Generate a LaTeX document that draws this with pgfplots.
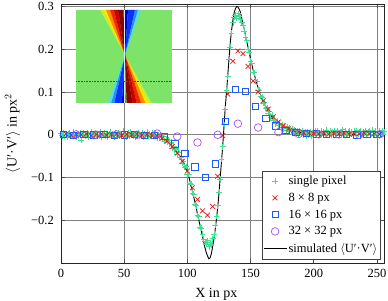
\documentclass[border=0pt]{standalone}
\usepackage{fontspec}
\setmainfont{Liberation Serif}
\usepackage{pgfplots}
\pgfplotsset{compat=1.18}
\definecolor{cgreen}{RGB}{60,225,150}
\definecolor{cred}{RGB}{240,20,20}
\definecolor{cblue}{RGB}{30,90,250}
\definecolor{cpurple}{RGB}{170,80,240}
\definecolor{jgreen}{RGB}{125,228,105}
\newcommand{\uv}{$\langle$U′·V′$\rangle$}
\begin{document}
\begin{tikzpicture}
\begin{axis}[at={(0pt,0pt)}, anchor=south west, scale only axis,
  width=323.5pt, height=259pt,
  xmin=0, xmax=256, ymin=-0.3, ymax=0.306,
  xtick={0,50,100,150,200,250}, xticklabels={0,50,100,150,200,250},
  ytick={-0.2,-0.1,0,0.1,0.2,0.3}, yticklabels={−0.2,−0.1,0,0.1,0.2,0.3},
  grid=major, grid style={black!50, line width=0.7pt},
  axis line style={black!85, line width=0.8pt},
  tick style={black!70, line width=0.8pt}, major tick length=4pt,
  ticklabel style={font=\fontsize{12.5}{14}\selectfont, inner sep=0pt},
  xticklabel style={anchor=base, yshift=-14pt},
  yticklabel style={anchor=east, xshift=-7pt},
  label style={font=\fontsize{14}{16}\selectfont},
  xlabel={X in px}, ylabel={\uv\ in px$^2$},
  xlabel style={at={(axis description cs:0.48,-0.1313)}, anchor=base},
  ylabel style={at={(axis description cs:-0.15,0.5)}, anchor=center},
  legend style={at={(0.986,0.0154)}, anchor=south east, draw=black!75, fill=white,
    font=\fontsize{12.5}{14}\selectfont, row sep=3pt, inner xsep=1pt, inner ysep=3pt,
    nodes={inner xsep=1.5pt}},
  legend cell align=left,
  legend image code/.code={\draw[mark repeat=2,mark phase=2,#1] plot coordinates {(0pt,0pt)(11.5pt,0pt)(23pt,0pt)};},
]
\addplot[only marks, mark=+, mark size=2.9pt, cgreen, line width=0.7pt] coordinates {
(0,0.003)(1,-0.002)(2,0.005)(3,-0.004)(4,0.001)(5,-0.006)(6,0.002)(7,0.004)(8,-0.003)(9,0.000)
(10,0.006)(11,-0.001)(12,-0.005)(13,0.002)(14,-0.002)(15,0.004)(16,-0.013)(17,0.001)(18,0.005)(19,-0.003)
(20,-0.001)(21,0.004)(22,-0.005)(23,0.002)(24,0.006)(25,-0.003)(26,0.000)(27,0.005)(28,-0.004)(29,0.002)
(30,-0.002)(31,0.007)(32,-0.006)(33,0.001)(34,0.004)(35,-0.003)(36,0.003)(37,-0.005)(38,0.002)(39,0.006)
(40,-0.002)(41,0.001)(42,-0.006)(43,0.004)(44,0.000)(45,0.005)(46,-0.003)(47,0.003)(48,-0.004)(49,0.008)
(50,-0.001)(51,0.002)(52,-0.005)(53,0.004)(54,-0.002)(55,0.006)(56,0.001)(57,-0.004)(58,0.003)(59,-0.006)
(60,0.002)(61,0.005)(62,-0.003)(63,0.000)(64,0.004)(65,-0.005)(66,0.003)(67,-0.001)(68,0.006)(69,-0.003)
(70,0.002)(71,-0.004)(72,0.004)(73,-0.002)(74,0.001)
(75,0.002)(76,-0.007)(77,-0.001)(78,-0.007)(79,-0.001)(80,-0.010)(81,-0.004)(82,-0.015)(83,-0.010)(84,-0.018)
(85,-0.013)(86,-0.021)(87,-0.017)(88,-0.031)(89,-0.026)(90,-0.035)(91,-0.032)(92,-0.045)(93,-0.041)(94,-0.053)
(95,-0.052)(96,-0.066)(97,-0.063)(98,-0.076)(99,-0.074)(100,-0.092)(101,-0.093)(102,-0.114)(103,-0.115)(104,-0.136)
(105,-0.139)(106,-0.163)(107,-0.166)(108,-0.189)(109,-0.192)(110,-0.216)(111,-0.219)(112,-0.232)(113,-0.244)(114,-0.250)
(115,-0.256)(116,-0.248)(117,-0.262)(118,-0.252)(119,-0.258)(120,-0.243)(121,-0.232)(122,-0.212)(123,-0.190)(124,-0.166)
(125,-0.134)(126,-0.104)(127,-0.058)(128,-0.028)(129,0.024)(130,0.060)(131,0.104)(132,0.136)(133,0.176)(134,0.205)
(135,0.238)(136,0.262)(137,0.275)(138,0.280)(139,0.272)(140,0.283)(141,0.276)(142,0.270)(143,0.262)(144,0.255)
(145,0.243)(146,0.229)(147,0.221)(148,0.200)(149,0.194)(150,0.172)(151,0.168)(152,0.147)(153,0.145)(154,0.126)
(155,0.124)(156,0.105)(157,0.104)(158,0.090)(159,0.088)(160,0.074)(161,0.075)(162,0.062)(163,0.064)(164,0.051)
(165,0.054)(166,0.041)(167,0.046)(168,0.033)(169,0.037)(170,0.026)(171,0.032)(172,0.021)(173,0.027)(174,0.017)
(175,0.024)(176,0.014)(177,0.020)(178,0.011)(179,0.019)(180,0.009)(181,0.016)(182,0.007)(183,0.014)(184,0.005)
(185,0.012)(186,0.003)(187,0.010)(188,0.002)(189,0.009)(190,0.001)(191,0.008)(192,-0.001)(193,0.007)(194,-0.002)
(195,0.006)(196,0.000)(197,0.007)(198,-0.003)(199,0.005)(200,-0.002)
(201,0.008)(202,0.000)(203,0.010)(204,0.004)(205,0.001)(206,0.009)(207,0.003)(208,0.007)(209,-0.001)
(210,0.011)(211,0.005)(212,0.002)(213,0.008)(214,0.000)(215,0.006)(216,0.010)(217,0.001)(218,0.005)(219,0.009)
(220,-0.001)(221,0.007)(222,0.004)(223,0.012)(224,0.002)(225,0.008)(226,0.000)(227,0.006)(228,0.009)(229,0.003)
(230,0.007)(231,-0.002)(232,0.008)(233,0.005)(234,0.010)(235,0.001)(236,0.006)(237,0.009)(238,0.002)(239,0.007)
(240,0.004)(241,0.010)(242,0.000)(243,0.006)(244,0.008)(245,0.002)(246,0.011)(247,0.005)(248,0.001)(249,0.009)
(250,0.006)(251,0.000)(252,0.008)(253,0.004)(254,0.010)(255,0.002)(256,0.007)
};
\addlegendentry{single pixel}
\addplot[only marks, mark=x, mark size=3.4pt, cred, line width=0.7pt] coordinates {
(4,0.002)(8,-0.001)(12,0.001)(16,0.000)(20,0.002)(24,-0.002)(28,0.001)(32,0.002)(36,-0.001)(40,0.000)
(44,0.002)(48,-0.002)(52,0.001)(56,0.000)(60,0.002)(64,-0.001)(68,0.001)(72,-0.002)(76,-0.003)(80,-0.008)
(84,-0.015)(88,-0.028)(92,-0.043)(96,-0.062)(100,-0.085)(104,-0.124)(108,-0.151)(112,-0.178)(116,-0.188)(120,-0.168)
(124,-0.097)(128,-0.002)(132,0.095)(136,0.172)(140,0.196)(144,0.190)(148,0.160)(152,0.126)(156,0.100)(160,0.080)
(164,0.060)(168,0.042)(172,0.030)(176,0.021)(180,0.014)(184,0.010)(188,0.007)(192,0.005)(196,0.004)(200,0.003)
(204,0.002)(208,0.004)(212,0.001)(216,0.003)(220,0.002)(224,0.004)(228,0.001)(232,0.003)(236,0.002)(240,0.004)
(244,0.002)(248,0.003)(252,0.001)
};
\addlegendentry{8 × 8 px}
\addplot[only marks, mark=square, mark size=3.2pt, cblue, line width=0.7pt] coordinates {
(2,0.001)(10,-0.001)(18,0.001)(26,0.000)(34,0.001)(42,-0.001)(50,0.000)(58,0.001)(66,-0.001)(74,-0.001)
(82,-0.004)(90,-0.021)(98,-0.044)(106,-0.075)(114,-0.100)(122,-0.068)(130,0.032)(138,0.106)(146,0.102)(154,0.067)
(162,0.039)(170,0.021)(178,0.011)(186,0.006)(194,0.003)(202,0.002)(210,0.001)(218,0.001)(226,0.001)(234,0.000)
(242,0.001)(250,0.001)
};
\addlegendentry{16 × 16 px}
\addplot[only marks, mark=o, mark size=3.8pt, cpurple, line width=0.7pt] coordinates {
(12,0.001)(28,0.000)(44,0.001)(60,0.000)(76,0.003)(92,-0.004)(108,-0.018)(124,0.000)(140,0.026)(156,0.017)
(172,0.006)(188,0.002)(204,0.001)(220,0.001)(236,0.000)(252,0.001)
};
\addlegendentry{32 × 32 px}
\addplot[black, line width=0.9pt] coordinates {
(0,0)(60,0)(70,-0.001)(75,-0.002)(78,-0.005)(80,-0.007)(82,-0.010)(84,-0.014)(86,-0.019)(88,-0.025)
(90,-0.032)(92,-0.040)(94,-0.049)(96,-0.060)(98,-0.072)(100,-0.087)(101,-0.097)(102,-0.108)(103,-0.120)(104,-0.132)
(105,-0.145)(106,-0.158)(107,-0.170)(108,-0.186)(109,-0.198)(110,-0.212)(111,-0.224)(112,-0.238)(113,-0.252)(114,-0.265)
(115,-0.276)(116,-0.284)(117,-0.290)(118,-0.288)(119,-0.278)(120,-0.262)(121,-0.243)(122,-0.222)(123,-0.198)(124,-0.170)
(125,-0.138)(126,-0.100)(127,-0.063)(128,-0.025)(129,0.020)(130,0.065)(131,0.100)(132,0.140)(133,0.180)(134,0.217)
(135,0.245)(136,0.268)(137,0.285)(138,0.295)(139,0.300)(140,0.299)(141,0.294)(142,0.287)(143,0.273)(144,0.260)
(145,0.247)(146,0.232)(147,0.218)(148,0.205)(150,0.177)(152,0.152)(154,0.130)(156,0.110)(158,0.093)(160,0.078)
(162,0.066)(164,0.055)(166,0.045)(168,0.037)(170,0.030)(172,0.025)(174,0.021)(176,0.018)(178,0.015)(180,0.013)
(185,0.008)(190,0.005)(195,0.003)(200,0.002)(210,0.001)(256,0)
};
\addlegendentry{simulated \uv}
\end{axis}
% inset image (decoration), picture coordinates in pt
\begin{scope}[x=1pt,y=1pt]
\fill[jgreen] (15,160) rectangle (111,253);
\coordinate (C) at (64,208);
% top red fan
\fill[fill={rgb,255:red,190;green,240;blue,60}] (C) -- (39,253) -- (42,253) -- cycle;
\fill[fill={rgb,255:red,255;green,230;blue,0}] (C) -- (42,253) -- (45,253) -- cycle;
\fill[fill={rgb,255:red,255;green,140;blue,0}] (C) -- (45,253) -- (49,253) -- cycle;
\fill[fill={rgb,255:red,240;green,40;blue,0}] (C) -- (49,253) -- (53,253) -- cycle;
\fill[fill={rgb,255:red,200;green,0;blue,0}] (C) -- (53,253) -- (57,253) -- cycle;
\fill[fill={rgb,255:red,140;green,0;blue,0}] (C) -- (57,253) -- (62.5,253) -- cycle;
% top blue fan
\fill[fill={rgb,255:red,0;green,0;blue,200}] (C) -- (63.8,253) -- (67,253) -- cycle;
\fill[fill={rgb,255:red,10;green,50;blue,255}] (C) -- (67,253) -- (74,253) -- cycle;
\fill[fill={rgb,255:red,40;green,140;blue,255}] (C) -- (74,253) -- (77,253) -- cycle;
\fill[fill={rgb,255:red,90;green,220;blue,230}] (C) -- (77,253) -- (80,253) -- cycle;
% bottom red fan
\fill[fill={rgb,255:red,190;green,240;blue,60}] (C) -- (90.7,160) -- (87.5,160) -- cycle;
\fill[fill={rgb,255:red,255;green,230;blue,0}] (C) -- (87.5,160) -- (84.3,160) -- cycle;
\fill[fill={rgb,255:red,255;green,140;blue,0}] (C) -- (84.3,160) -- (80,160) -- cycle;
\fill[fill={rgb,255:red,240;green,40;blue,0}] (C) -- (80,160) -- (75.7,160) -- cycle;
\fill[fill={rgb,255:red,200;green,0;blue,0}] (C) -- (75.7,160) -- (71.5,160) -- cycle;
\fill[fill={rgb,255:red,140;green,0;blue,0}] (C) -- (71.5,160) -- (65.6,160) -- cycle;
% bottom blue fan
\fill[fill={rgb,255:red,0;green,0;blue,200}] (C) -- (64.3,160) -- (60.8,160) -- cycle;
\fill[fill={rgb,255:red,10;green,50;blue,255}] (C) -- (60.8,160) -- (53.3,160) -- cycle;
\fill[fill={rgb,255:red,40;green,140;blue,255}] (C) -- (53.3,160) -- (50.1,160) -- cycle;
\fill[fill={rgb,255:red,90;green,220;blue,230}] (C) -- (50.1,160) -- (46.9,160) -- cycle;
\draw[white!80!cyan, line width=0.8pt] (63.2,253) -- (63.2,160);
\draw[black!70, densely dotted, line width=0.6pt] (15,182) -- (111,182);
\end{scope}
\pgfresetboundingbox
\path (-61pt,-37pt) rectangle (327pt,263pt);
\end{tikzpicture}
\end{document}
